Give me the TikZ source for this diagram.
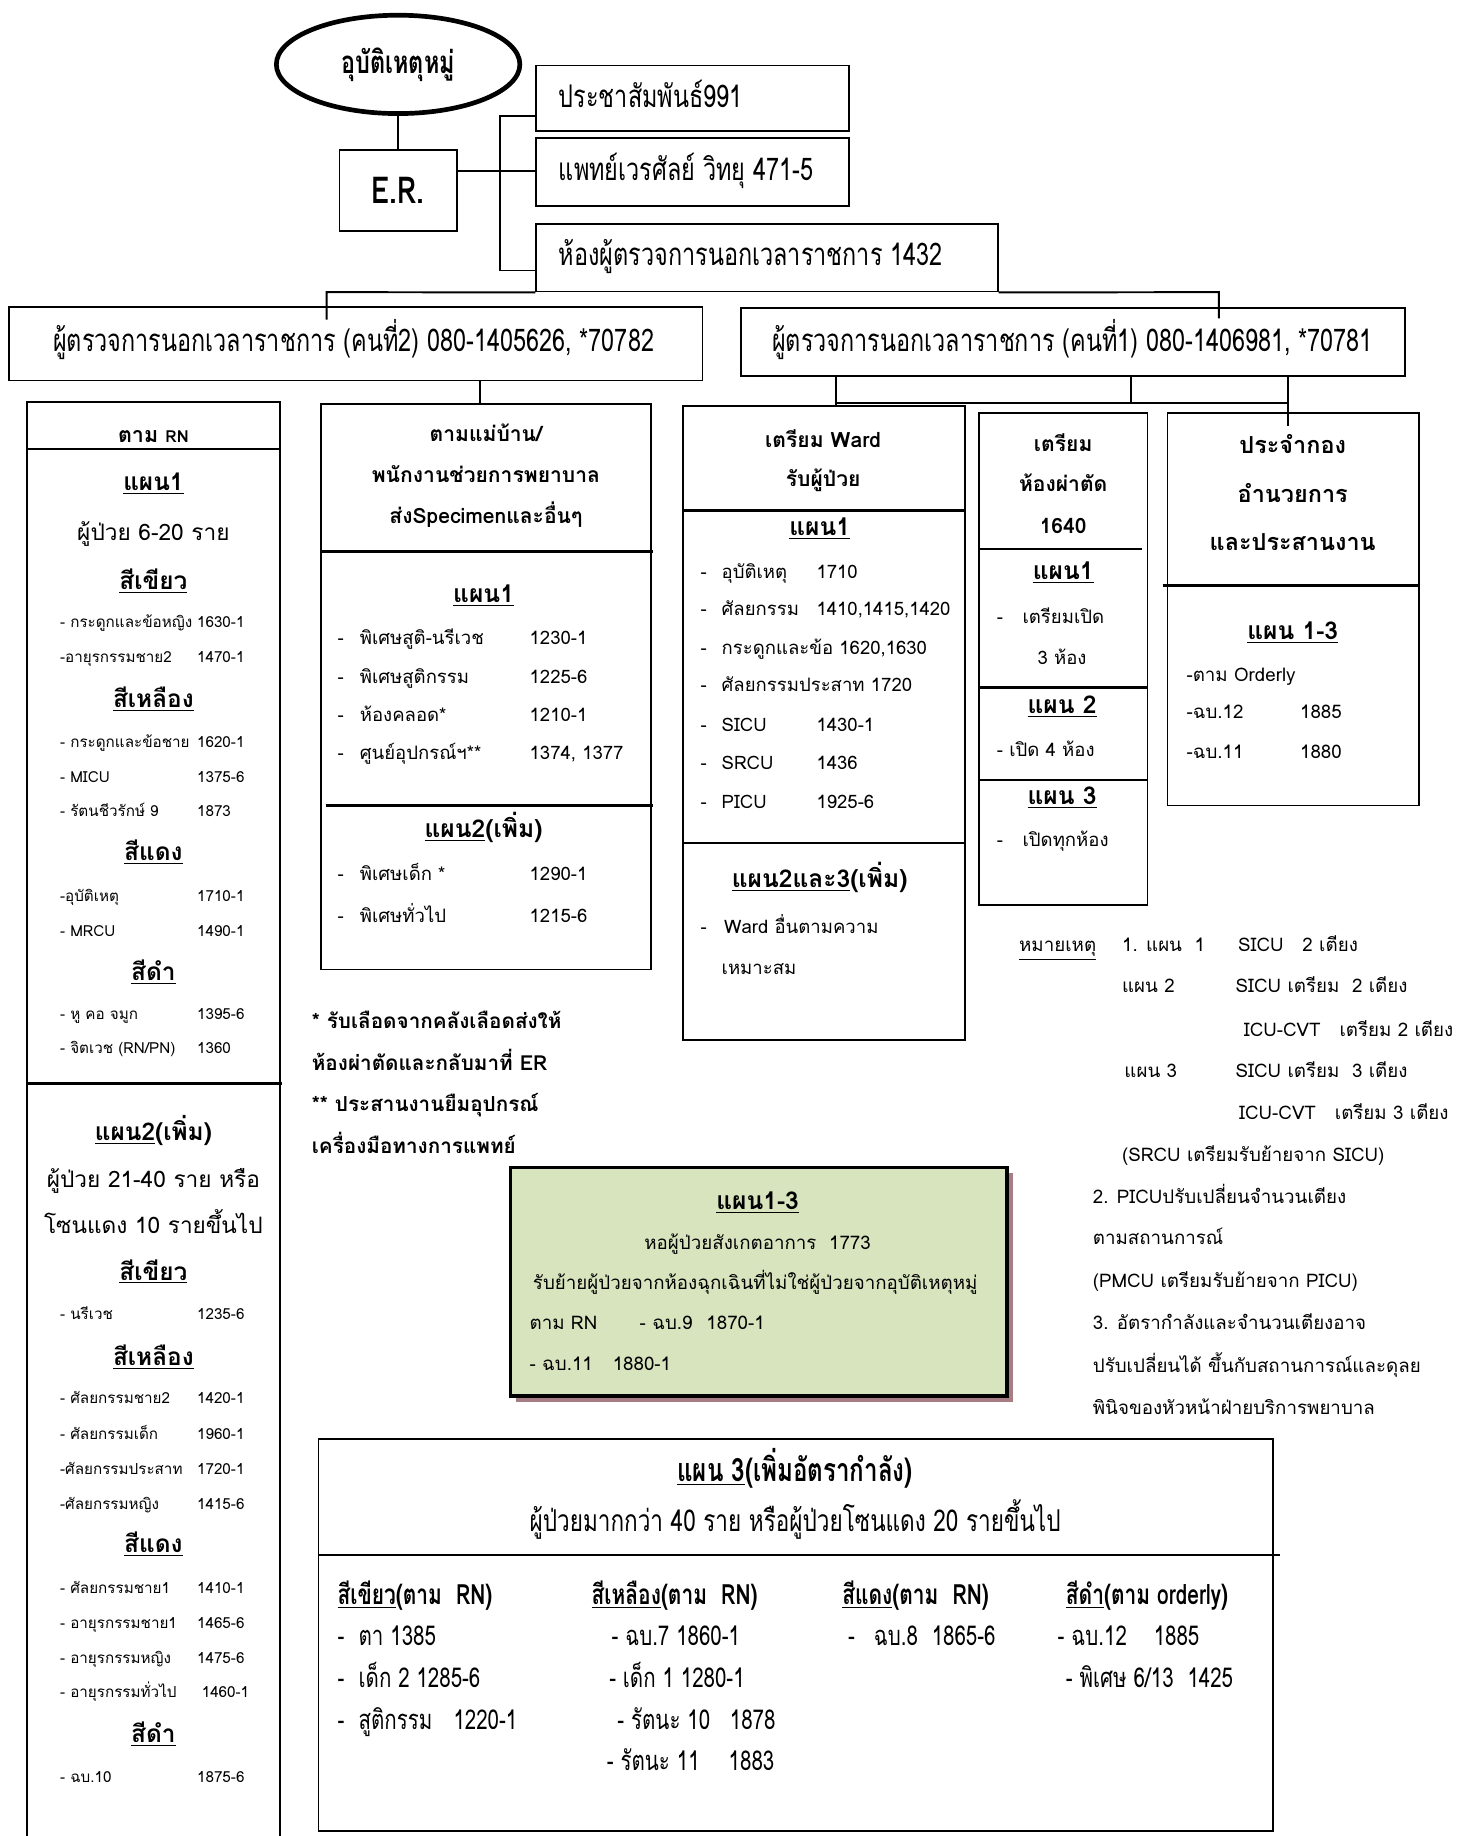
\documentclass[tikz,border=0pt]{standalone}
\usepackage{fontspec}
\setmainfont[Script=Thai]{Loma}
\newfontfamily\thcond[Script=Thai,FakeStretch=0.75]{Loma}
\usetikzlibrary{shapes.geometric,fit}
\newcommand\uln[1]{\underline{#1}}
\newcommand\FTop{\thcond\fontsize{16}{18}\selectfont}
\newcommand\FEll{\thcond\bfseries\fontsize{16}{18}\selectfont}
\newcommand\FER{\thcond\bfseries\fontsize{19}{21}\selectfont}
\newcommand\FL{\fontsize{7.8}{9}\selectfont}
\newcommand\FLH{\bfseries\fontsize{12.5}{14}\selectfont}
\newcommand\FLP{\fontsize{11.6}{13}\selectfont}
\newcommand\FM{\fontsize{9.5}{11}\selectfont}
\newcommand\FMH{\bfseries\fontsize{10.8}{12}\selectfont}
\newcommand\FPH{\bfseries\fontsize{12.6}{14}\selectfont}
\newcommand\FN{\fontsize{9.6}{11}\selectfont}
\newcommand\FFN{\bfseries\fontsize{10.6}{12}\selectfont}
\newcommand\FB{\thcond\fontsize{14}{16}\selectfont}
\newcommand\FBS{\thcond\fontsize{15.4}{17}\selectfont}
\newcommand\FBH{\thcond\bfseries\fontsize{14.3}{16}\selectfont}
\newcommand\FBT{\thcond\bfseries\fontsize{16.5}{18}\selectfont}
\definecolor{grn}{RGB}{215,228,189}
\definecolor{shd}{RGB}{165,125,130}
\begin{document}
\begin{tikzpicture}[x=0.6pt,y=-0.6pt,
  box/.style={draw,line width=0.9pt,inner sep=0pt},
  div/.style={line width=1.3pt},
  con/.style={line width=1pt},
  tw/.style={inner sep=0pt,anchor=base west},
  tc/.style={inner sep=0pt,anchor=base},
  top/.style={tw,font=\FTop,yshift=-4.8pt},
  li/.style={tw,font=\FL,yshift=-2.4pt},
  lh/.style={tc,font=\FLH,yshift=-3.7pt},
  lp/.style={tc,font=\FLP,yshift=-3.5pt},
  mi/.style={tw,font=\FM,yshift=-2.9pt},
  mh/.style={tc,font=\FMH,yshift=-3.2pt},
  ph/.style={tc,font=\FPH,yshift=-3.7pt},
  nt/.style={tw,font=\FN,yshift=-2.9pt},
  nc/.style={tc,font=\FN,yshift=-2.9pt},
  fnote/.style={tw,font=\FFN,yshift=-3.2pt},
  bt/.style={tw,font=\FB,yshift=-4.2pt},
  bh/.style={tw,font=\FBH,yshift=-4.3pt},
]
\useasboundingbox (0,0) rectangle (1247,1568);
\fill[white] (0,0) rectangle (1247,1568);

% ---------- top part ----------
\node[ellipse,draw,line width=2.4pt,minimum width=124.8pt,minimum height=50.4pt,inner sep=0pt,font=\FEll] (ell) at (340,55) {อุบัติเหตุหมู่};
\node[box,minimum width=60pt,minimum height=41.4pt,font=\FER] (er) at (340,162.5) {E.R.};
\node[box,fit={(458,56) (725,112)}] (b1) {};
\node[box,fit={(458,118) (725,176)}] (b2) {};
\node[box,fit={(458,191) (852,249)}] (b3) {};
\node[top] (b1t) at (477,84) {ประชาสัมพันธ์991};
\node[top] (b2t) at (477,146) {แพทย์เวรศัลย์ วิทยุ 471-5};
\node[top] (b3t) at (477,219) {ห้องผู้ตรวจการนอกเวลาราชการ 1432};

\node[box,fit={(8,262) (600,325)}] (k2) {};
\node[box,fit={(633,263) (1200,321)}] (k1) {};
\node[tc,font=\FTop,yshift=-4.8pt] (k2t) at (302,292) {ผู้ตรวจการนอกเวลาราชการ (คนที่2) 080-1405626, *70782};
\node[tc,font=\FTop,yshift=-4.8pt] (k1t) at (916,292) {ผู้ตรวจการนอกเวลาราชการ (คนที่1) 080-1406981, *70781};

\draw[con] (ell.south) -- (er.north);
\coordinate (brT) at (427,99);
\coordinate (brM) at (427,146);
\coordinate (brB) at (427,231);
\draw[con] (brT -| b1.west) -- (brT) -- (brB) -- (brB -| b3.west);
\draw[con] (brM -| er.east) -- (brM -| b2.west);
\coordinate (hL) at (279,249.5);
\coordinate (hR) at (1041,249.5);
\coordinate (hLb) at (279,273);
\coordinate (hRb) at (1041,272);
\draw[con] (hLb) -- (hL) -- (b3.south west);
\draw[con] (b3.south east) -- (hR) -- (hRb);

% ---------- left column ----------
\draw[box] (23,1570) -- (23,343) -- (239,343) -- (239,1570);
\draw[div] (23,383.5) -- (239,383.5);
\draw[div] (23,925.5) -- (241,925.5);
\node[tc,font=\bfseries\fontsize{11}{13}\selectfont,yshift=-3.3pt] (lrn) at (131,372) {ตาม {\fontsize{8.5}{10}\selectfont RN}};
\node[lh] (lp1) at (131,413) {\uln{แผน1}};
\node[lp] (lpa) at (131,456) {ผู้ป่วย 6-20 ราย};
\node[lh] (lp2) at (131,968) {\uln{แผน2}(เพิ่ม)};
\node[lp] (lpb) at (131,1008) {ผู้ป่วย 21-40 ราย หรือ};
\node[lp] (lpc) at (131,1048) {โซนแดง 10 รายขึ้นไป};
\foreach \myy/\myt in {497/สีเขียว,598/สีเหลือง,729/สีแดง,831/สีดำ,1087/สีเขียว,1160/สีเหลือง,1320/สีแดง,1482/สีดำ}
  {\node[lh] (Lh\myy) at (131,\myy) {\uln{\myt}};}
\foreach \myy/\mya/\myx/\myb in {532/{- กระดูกและข้อหญิง}/168/1630-1, 562/{-อายุรกรรมชาย2}/168/1470-1,
   634/{- กระดูกและข้อชาย}/168/1620-1, 664/{- MICU}/168/1375-6, 693/{- รัตนชีวรักษ์ 9}/168/1873,
   766/{-อุบัติเหตุ}/168/1710-1, 796/{- MRCU}/168/1490-1, 867/{- หู คอ จมูก}/168/1395-6,
   1123/{- นรีเวช}/168/1235-6, 1195/{- ศัลยกรรมชาย2}/168/1420-1, 1225/{- ศัลยกรรมเด็ก}/168/1960-1,
   1255/{-ศัลยกรรมประสาท}/168/1720-1, 1285/{-ศัลยกรรมหญิง}/168/1415-6, 1357/{- ศัลยกรรมชาย1}/168/1410-1,
   1387/{- อายุรกรรมชาย1}/168/1465-6, 1417/{- อายุรกรรมหญิง}/168/1475-6, 1446/{- อายุรกรรมทั่วไป}/172/1460-1,
   1518/{- ฉบ.10}/168/1875-6}
  {\node[li] (La\myy) at (51,\myy) {\mya};
   \node[li] (Lb\myy) at (\myx,\myy) {\myb};}
\node[li] (La896) at (51,896) {- จิตเวช (RN/PN)};
\node[li] (Lb896) at (168,896) {1360};

% ---------- middle box ----------
\node[box,fit={(274,345) (556,828)}] (mid) {};
\draw[div] (274,471) -- (558,471);
\draw[div] (278,688) -- (558,688);
\coordinate (cA) at (410,0);
\draw[con] (k2.south -| cA) -- (mid.north -| cA);
\node[mh] (mh1) at (415,372) {ตามแม่บ้าน/};
\node[mh] (mh2) at (415,407) {พนักงานช่วยการพยาบาล};
\node[mh] (mh3) at (415,442) {ส่งSpecimenและอื่นๆ};
\node[ph] (mp1) at (413,508) {\uln{แผน1}};
\node[ph] (mp2) at (413,709) {\uln{แผน2}(เพิ่ม)};
\foreach \myy/\mya/\myb in {546/พิเศษสูติ-นรีเวช/1230-1, 579/พิเศษสูติกรรม/1225-6, 611/ห้องคลอด*/1210-1,
   644/ศูนย์อุปกรณ์ฯ**/{1374, 1377}, 747/พิเศษเด็ก */1290-1, 783/พิเศษทั่วไป/1215-6}
  {\node[mi] (Md\myy) at (288,\myy) {-};
   \node[mi] (Ma\myy) at (307,\myy) {\mya};
   \node[mi] (Mb\myy) at (452,\myy) {\myb};}
\node[fnote] (fn1) at (266,873) {* รับเลือดจากคลังเลือดส่งให้};
\node[fnote] (fn2) at (266,909) {ห้องผ่าตัดและกลับมาที่ ER};
\node[fnote] (fn3) at (266,944) {** ประสานงานยืมอุปกรณ์};
\node[fnote] (fn4) at (266,980) {เครื่องมือทางการแพทย์};

% ---------- ward box ----------
\node[box,fit={(583,347) (824,888)}] (ward) {};
\draw[div] (583,436) -- (824,436);
\draw[div] (583,720) -- (824,720);
\node[mh] (wh1) at (703,377) {เตรียม Ward};
\node[mh] (wh2) at (703,410) {รับผู้ป่วย};
\node[ph] (wp1) at (700,451) {\uln{แผน1}};
\node[ph] (wp2) at (700,752) {\uln{แผน2และ3}(เพิ่ม)};
\foreach \myy/\mya/\myb in {489/อุบัติเหตุ/1710, 521/ศัลยกรรม/{1410,1415,1420}, 620/SICU/1430-1, 652/SRCU/1436, 686/PICU/1925-6}
  {\node[mi] (Wd\myy) at (598,\myy) {-};
   \node[mi] (Wa\myy) at (616,\myy) {\mya};
   \node[mi] (Wb\myy) at (697,\myy) {\myb};}
\node[mi] (Wd554) at (598,554) {-};
\node[mi] (Wa554) at (616,554) {กระดูกและข้อ 1620,1630};
\node[mi] (Wd586) at (598,586) {-};
\node[mi] (Wa586) at (616,586) {ศัลยกรรมประสาท 1720};
\node[mi] (Wd792) at (598,792) {-};
\node[mi] (Wa792) at (618,792) {Ward อื่นตามความ};
\node[mi] (Wa827) at (616,827) {เหมาะสม};

% ---------- OR box ----------
\node[box,fit={(836,353) (980,773)}] (orb) {};
\draw[div] (836,469) -- (975,469);
\draw[div] (836,587) -- (980,587);
\draw[div] (836,666) -- (980,666);
\node[mh] (oh1) at (908,380) {เตรียม};
\node[mh] (oh2) at (908,414) {ห้องผ่าตัด};
\node[mh] (oh3) at (908,450) {1640};
\node[ph] (op1) at (908,489) {\uln{แผน1}};
\node[mi] (od1) at (851,528) {-};
\node[mi] (oa1) at (873,528) {เตรียมเปิด};
\node[tc,font=\FM,yshift=-2.9pt] (oa2) at (907,563) {3 ห้อง};
\node[ph] (op2) at (907,603) {\uln{แผน 2}};
\node[mi] (oa3) at (851,641) {- เปิด 4 ห้อง};
\node[ph] (op3) at (907,681) {\uln{แผน 3}};
\node[mi] (od4) at (851,718) {-};
\node[mi] (oa4) at (873,718) {เปิดทุกห้อง};

% ---------- command box ----------
\node[box,fit={(997,353) (1212,688)}] (cmd) {};
\draw[div] (993,500) -- (1212,500);
\coordinate (r1) at (714,344);
\coordinate (r2) at (966,344);
\coordinate (r3) at (1100,344);
\coordinate (r3b) at (1100,364);
\draw[con] (k1.south -| r1) -- (ward.north -| r1);
\draw[con] (r1) -- (r3);
\draw[con] (k1.south -| r2) -- (r2);
\draw[con] (k1.south -| r3) -- (r3b);
\node[tc,font=\bfseries\fontsize{12}{14}\selectfont,yshift=-3.6pt] (ch1) at (1104,381) {ประจำกอง};
\node[tc,font=\bfseries\fontsize{12}{14}\selectfont,yshift=-3.6pt] (ch2) at (1104,423) {อำนวยการ};
\node[tc,font=\bfseries\fontsize{12}{14}\selectfont,yshift=-3.6pt] (ch3) at (1104,464) {และประสานงาน};
\node[ph] (cp1) at (1104,540) {\uln{แผน 1-3}};
\node[nt] (ca1) at (1013,577) {-ตาม Orderly};
\node[nt] (ca2) at (1013,609) {-ฉบ.12};
\node[nt] (cb2) at (1110,609) {1885};
\node[nt] (ca3) at (1013,643) {-ฉบ.11};
\node[nt] (cb3) at (1110,643) {1880};

% ---------- notes ----------
\node[nt] (n0) at (870,808) {\uln{หมายเหตุ}};
\node[nt] (n1a) at (958,808) {1. แผน\ \ 1};
\node[nt] (n1b) at (1057,808) {SICU\ \ \ 2 เตียง};
\node[nt] (n2a) at (958,843) {แผน 2};
\node[nt] (n2b) at (1055,843) {SICU เตรียม\ \ 2 เตียง};
\node[nt] (n3b) at (1062,880) {ICU-CVT\ \ \ เตรียม 2 เตียง};
\node[nt] (n4a) at (960,915) {แผน 3};
\node[nt] (n4b) at (1055,915) {SICU เตรียม\ \ 3 เตียง};
\node[nt] (n5b) at (1058,951) {ICU-CVT\ \ \ เตรียม 3 เตียง};
\node[nt] (n6) at (958,987) {(SRCU เตรียมรับย้ายจาก SICU)};
\node[nt] (n7) at (933,1023) {2. PICUปรับเปลี่ยนจำนวนเตียง};
\node[nt] (n8) at (933,1058) {ตามสถานการณ์};
\node[nt] (n9) at (933,1095) {(PMCU เตรียมรับย้ายจาก PICU)};
\node[nt] (n10) at (933,1131) {3. อัตรากำลังและจำนวนเตียงอาจ};
\node[nt] (n11) at (933,1167) {ปรับเปลี่ยนได้ ขึ้นกับสถานการณ์และดุลย};
\node[nt] (n12) at (933,1203) {พินิจของหัวหน้าฝ่ายบริการพยาบาล};

% ---------- green box ----------
\fill[shd] (441,1002) rectangle (865,1197);
\node[draw,fill=grn,line width=1.8pt,inner sep=0pt,fit={(436,997) (860,1192)}] (obs) {};
\node[ph] (gp) at (647,1027) {\uln{แผน1-3}};
\node[nc] (g1) at (647,1062) {หอผู้ป่วยสังเกตอาการ\ \ 1773};
\node[nc] (g2) at (645,1096) {รับย้ายผู้ป่วยจากห้องฉุกเฉินที่ไม่ใช่ผู้ป่วยจากอุบัติเหตุหมู่};
\node[nt] (g3a) at (452,1131) {ตาม RN};
\node[nt] (g3b) at (546,1131) {- ฉบ.9};
\node[nt] (g3c) at (603,1131) {1870-1};
\node[nt] (g4a) at (452,1166) {- ฉบ.11};
\node[nt] (g4b) at (523,1166) {1880-1};

% ---------- bottom box ----------
\node[box,fit={(272,1229) (1087,1564)}] (p3) {};
\draw[div] (272,1328) -- (1093,1328);
\node[tc,font=\FBT,yshift=-4.9pt] (p3t) at (679,1257) {\uln{แผน 3}(เพิ่มอัตรากำลัง)};
\node[tc,font=\FBS,yshift=-4.6pt] (p3s) at (679,1300) {ผู้ป่วยมากกว่า 40 ราย หรือผู้ป่วยโซนแดง 20 รายขึ้นไป};
\node[bh] (h1) at (288,1363) {\uln{สีเขียว}(ตาม\ \ RN)};
\node[bh] (h2) at (505,1363) {\uln{สีเหลือง}(ตาม\ \ RN)};
\node[bh] (h3) at (719,1363) {\uln{สีแดง}(ตาม\ \ RN)};
\node[bh] (h4) at (910,1363) {\uln{สีดำ}(ตาม orderly)};
\node[bt] (e1d) at (288,1398) {-};
\node[bt] (e1) at (306,1398) {ตา 1385};
\node[bt] (e2d) at (288,1434) {-};
\node[bt] (e2) at (306,1434) {เด็ก 2 1285-6};
\node[bt] (e3d) at (288,1470) {-};
\node[bt] (e3) at (306,1470) {สูติกรรม};
\node[bt] (e3n) at (387,1470) {1220-1};
\node[bt] (y1) at (522,1398) {- ฉบ.7 1860-1};
\node[bt] (y2) at (520,1434) {- เด็ก 1 1280-1};
\node[bt] (y3) at (527,1470) {- รัตนะ 10};
\node[bt] (y3n) at (623,1470) {1878};
\node[bt] (y4) at (518,1505) {- รัตนะ 11};
\node[bt] (y4n) at (622,1505) {1883};
\node[bt] (r1d) at (724,1398) {-};
\node[bt] (r1t) at (746,1398) {ฉบ.8\ \ 1865-6};
\node[bt] (k1a) at (903,1398) {- ฉบ.12};
\node[bt] (k1n) at (985,1398) {1885};
\node[bt] (k2a) at (910,1434) {- พิเศษ 6/13\ \ 1425};
\end{tikzpicture}
\end{document}
